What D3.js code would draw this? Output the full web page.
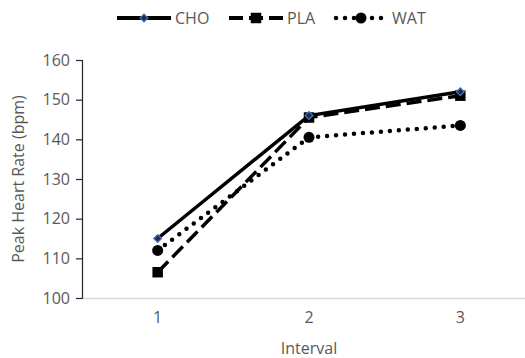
<!DOCTYPE html>
<html>
<head>
<meta charset="utf-8">
<script src="https://cdn.jsdelivr.net/npm/d3@7"></script>
<style>
  body { margin: 0; background: #fff; }
  text { font-family: "Open Sans", "Liberation Sans", sans-serif; fill: #595959; }
</style>
</head>
<body>
<svg width="525" height="358"></svg>
<script>
const intervals = ['1', '2', '3'];
const cho = [115, 146, 152];
const pla = [106.5, 145.5, 151];
const wat = [112, 140.5, 143.5];
const yTicks = [100, 110, 120, 130, 140, 150, 160];

const series = [
  { name: 'CHO', values: cho, dash: null, marker: 'diamond' },
  { name: 'PLA', values: pla, dash: '15,6', marker: 'square' },
  { name: 'WAT', values: wat, dash: '0,9', marker: 'circle' }
];

const svg = d3.select('svg');
const margin = { top: 60, left: 82 };
const innerHeight = 298 - margin.top;
const fontSize = '16px';

const xScale = d3.scaleBand()
  .domain(intervals)
  .range([0, 454]);

const yScale = d3.scaleLinear()
  .domain([100, 160])
  .range([innerHeight, 0]);

const g = svg.append('g')
  .attr('transform', `translate(${margin.left}, ${margin.top})`);

// x axis: light grey baseline only
const xAxisGroup = g.append('g')
  .attr('transform', `translate(0, ${innerHeight})`)
  .call(d3.axisBottom(xScale).tickSize(0).tickPadding(14));
xAxisGroup.select('.domain').attr('stroke', '#d9d9d9').attr('stroke-width', 1.3);
xAxisGroup.selectAll('text').style('font-size', fontSize).attr('fill', '#595959');

g.append('text')
  .attr('x', 227)
  .attr('y', innerHeight + 56)
  .style('text-anchor', 'middle')
  .style('font-size', fontSize)
  .text('Interval');

// y axis
const yAxisGroup = g.append('g')
  .call(d3.axisLeft(yScale).tickValues(yTicks).tickSize(6).tickSizeOuter(6).tickPadding(6));
yAxisGroup.select('.domain').attr('stroke', '#262626').attr('stroke-width', 1.2);
yAxisGroup.selectAll('.tick line').attr('stroke', '#262626').attr('stroke-width', 1.2);
yAxisGroup.selectAll('text').style('font-size', fontSize).attr('fill', '#595959');

g.append('text')
  .attr('transform', 'rotate(-90)')
  .attr('x', -innerHeight / 2)
  .attr('y', -58)
  .style('text-anchor', 'middle')
  .style('font-size', fontSize)
  .text('Peak Heart Rate (bpm)');

const xPos = i => xScale(intervals[i]) + xScale.bandwidth() / 2;

const line = d3.line()
  .x((d, i) => xPos(i))
  .y(d => yScale(d));

const drawMarker = (sel, type, x, y) => {
  if (type === 'diamond') {
    sel.append('path')
      .attr('d', d3.symbol(d3.symbolSquare, 30)())
      .attr('transform', `translate(${x},${y}) rotate(45)`)
      .attr('fill', '#1f2a44')
      .attr('stroke', '#4472c4')
      .attr('stroke-width', 1.3);
  } else if (type === 'square') {
    sel.append('path')
      .attr('d', d3.symbol(d3.symbolSquare, 110)())
      .attr('transform', `translate(${x},${y})`)
      .attr('fill', '#000');
  } else {
    sel.append('path')
      .attr('d', d3.symbol(d3.symbolCircle, 95)())
      .attr('transform', `translate(${x},${y})`)
      .attr('fill', '#000');
  }
};

// draw WAT, PLA, then CHO on top
[series[2], series[1], series[0]].forEach(s => {
  g.append('path')
    .attr('d', line(s.values))
    .attr('fill', 'none')
    .attr('stroke', '#000')
    .attr('stroke-width', s.marker === 'circle' ? 4.5 : 3.5)
    .attr('stroke-linecap', s.marker === 'circle' ? 'round' : 'butt')
    .attr('stroke-dasharray', s.dash);
  s.values.forEach((v, i) => drawMarker(g, s.marker, xPos(i), yScale(v)));
});

// legend
const legendX = [117, 229, 334];
const legend = svg.append('g');
series.forEach((s, i) => {
  const lg = legend.append('g').attr('transform', `translate(${legendX[i]}, 18)`);
  lg.append('line')
    .attr('x1', s.marker === 'circle' ? 2 : 0).attr('x2', 54)
    .attr('stroke', '#000')
    .attr('stroke-width', s.marker === 'circle' ? 4.5 : 3.8)
    .attr('stroke-linecap', s.marker === 'circle' ? 'round' : 'butt')
    .attr('stroke-dasharray', s.marker === 'square' ? '14,6' : s.dash);
  drawMarker(lg, s.marker, 27, 0);
  lg.append('text')
    .attr('x', 58)
    .attr('y', 6)
    .style('font-size', fontSize)
    .text(s.name);
});
</script>
</body>
</html>
